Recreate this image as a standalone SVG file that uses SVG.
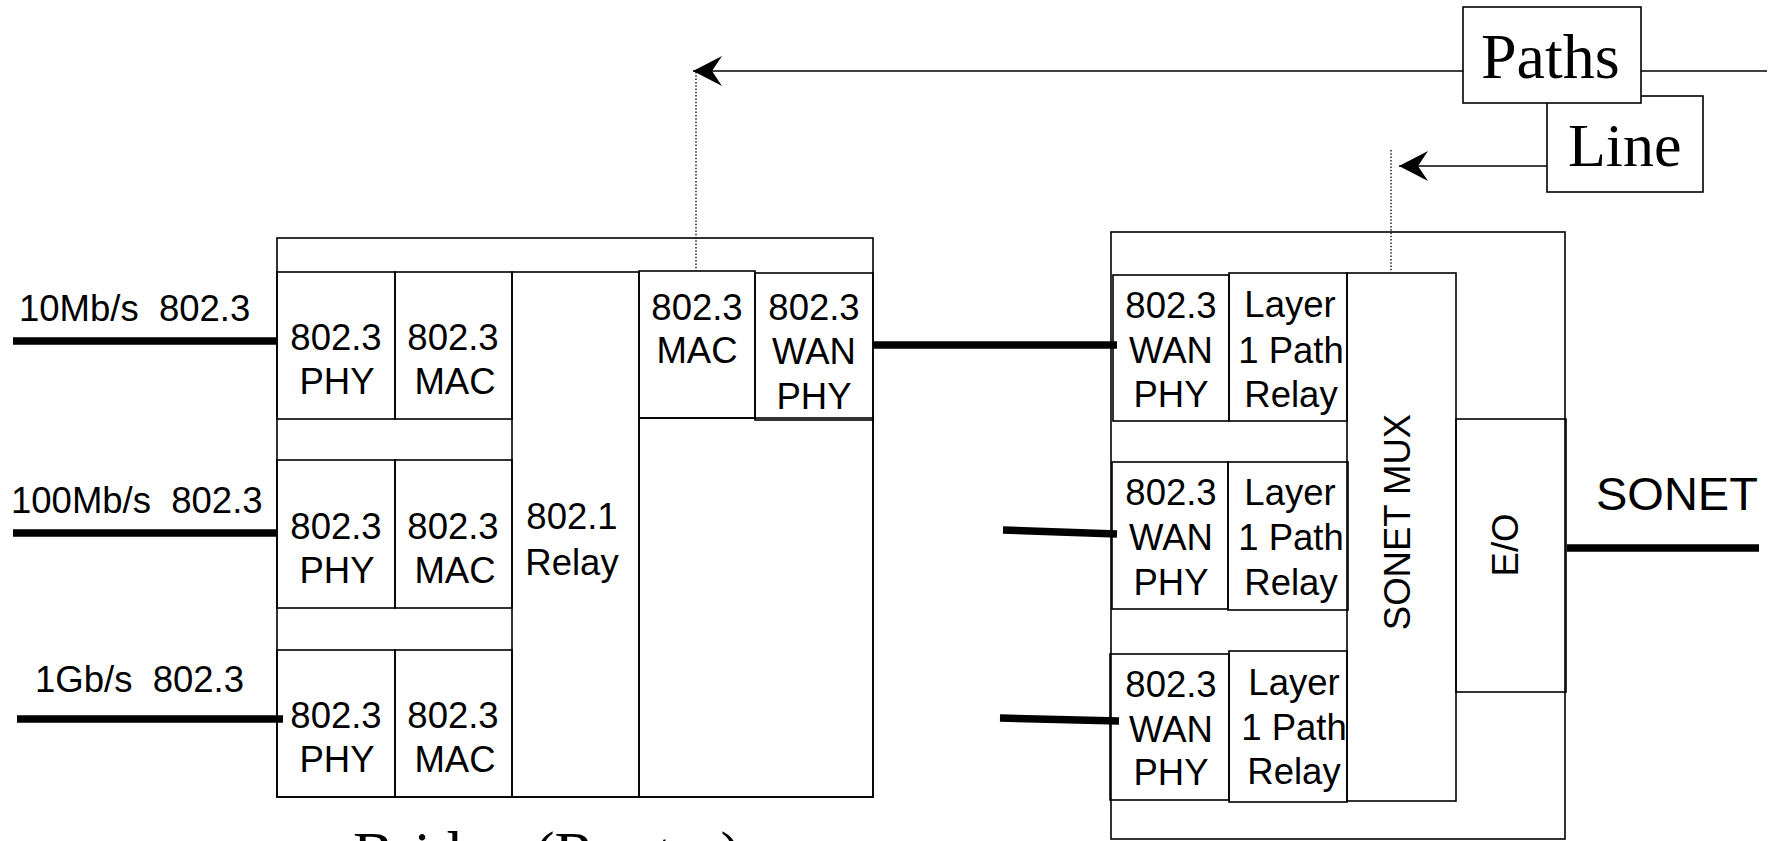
<svg xmlns="http://www.w3.org/2000/svg" width="1771" height="841" viewBox="0 0 1771 841">
<style>
.box{fill:none;stroke:#000;stroke-width:1.6}
.wbox{fill:#fff;stroke:#000;stroke-width:1.6}
.thick{fill:none;stroke:#000;stroke-width:7.5}
.thin{fill:none;stroke:#000;stroke-width:1.6}
.dot{fill:none;stroke:#000;stroke-width:1.3;stroke-dasharray:1.5 1.8}
.lbl{font-family:"Liberation Sans",Arial,sans-serif;font-size:36.5px;fill:#000;text-anchor:middle}
.lft{text-anchor:start}
.big{font-family:"Liberation Sans",Arial,sans-serif;font-size:47px;fill:#000}
.ser{font-family:"Liberation Serif","Times New Roman",serif;fill:#000}
</style>
<defs>
<marker id="ah" markerUnits="userSpaceOnUse" viewBox="-30 -16 31 32" markerWidth="31" markerHeight="32" refX="0" refY="0" orient="auto">
<path d="M0,0 L-29,-15 L-19,0 L-29,15 Z" fill="#000"/>
</marker>
</defs>
<rect width="1771" height="841" fill="#fff"/>

<g id="bridge">
<rect class="box" x="277" y="238" width="596" height="559"/>
<rect class="box" x="639" y="418" width="234" height="379"/>
</g>
<g id="phy1"><rect class="box" x="277" y="272" width="118" height="147"/>
<text class="lbl" x="336" y="350">802.3</text>
<text class="lbl" x="337" y="394">PHY</text></g>
<g id="mac1"><rect class="box" x="395" y="272" width="117" height="147"/>
<text class="lbl" x="453" y="350">802.3</text>
<text class="lbl" x="455" y="394">MAC</text></g>
<g id="phy2"><rect class="box" x="277" y="460" width="118" height="148"/>
<text class="lbl" x="336" y="539">802.3</text>
<text class="lbl" x="337" y="583">PHY</text></g>
<g id="mac2"><rect class="box" x="395" y="460" width="117" height="148"/>
<text class="lbl" x="453" y="539">802.3</text>
<text class="lbl" x="455" y="583">MAC</text></g>
<g id="phy3"><rect class="box" x="277" y="650" width="118" height="147"/>
<text class="lbl" x="336" y="728">802.3</text>
<text class="lbl" x="337" y="772">PHY</text></g>
<g id="mac3"><rect class="box" x="395" y="650" width="117" height="147"/>
<text class="lbl" x="453" y="728">802.3</text>
<text class="lbl" x="455" y="772">MAC</text></g>
<g id="relay"><rect class="box" x="512" y="272" width="127" height="525"/>
<text class="lbl" x="572" y="529">802.1</text>
<text class="lbl" x="572" y="575">Relay</text></g>
<g id="wanmac"><rect class="box" x="639" y="271" width="116" height="147"/>
<text class="lbl" x="697" y="320">802.3</text>
<text class="lbl" x="697" y="363">MAC</text></g>
<g id="wanphy"><rect class="box" x="755" y="273" width="118" height="147"/>
<text class="lbl" x="814" y="320">802.3</text>
<text class="lbl" x="814" y="364">WAN</text>
<text class="lbl" x="814" y="409">PHY</text></g>
<text class="ser" x="353" y="874" font-size="61">Bridge (Router)</text>

<g id="mux">
<rect class="box" x="1111" y="232" width="454" height="607"/>
</g>
<g id="mwp1"><rect class="box" x="1113" y="275" width="116" height="146"/>
<text class="lbl" x="1171" y="318">802.3</text>
<text class="lbl" x="1171" y="363">WAN</text>
<text class="lbl" x="1171" y="407">PHY</text></g>
<g id="ml1"><rect class="box" x="1229" y="273" width="118" height="148"/>
<text class="lbl" x="1290" y="317">Layer</text>
<text class="lbl" x="1291" y="363">1 Path</text>
<text class="lbl" x="1291" y="407">Relay</text></g>
<g id="mwp2"><rect class="box" x="1112" y="462" width="116" height="147"/>
<text class="lbl" x="1171" y="505">802.3</text>
<text class="lbl" x="1171" y="550">WAN</text>
<text class="lbl" x="1171" y="595">PHY</text></g>
<g id="ml2"><rect class="box" x="1228" y="462" width="120" height="148"/>
<text class="lbl" x="1290" y="505">Layer</text>
<text class="lbl" x="1291" y="550">1 Path</text>
<text class="lbl" x="1291" y="595">Relay</text></g>
<g id="mwp3"><rect class="box" x="1110" y="654" width="119" height="146"/>
<text class="lbl" x="1171" y="697">802.3</text>
<text class="lbl" x="1171" y="742">WAN</text>
<text class="lbl" x="1171" y="785">PHY</text></g>
<g id="ml3"><rect class="box" x="1229" y="651" width="118" height="151"/>
<text class="lbl" x="1294" y="695">Layer</text>
<text class="lbl" x="1294" y="740">1 Path</text>
<text class="lbl" x="1294" y="784">Relay</text></g>
<g id="sonetmux"><rect class="box" x="1347" y="273" width="109" height="528"/>
<text class="lbl" transform="translate(1410,522) rotate(-90)">SONET MUX</text></g>
<g id="eo"><rect class="box" x="1456" y="419" width="110" height="273"/>
<text class="lbl" font-size="35" transform="translate(1518,545) rotate(-90)">E/O</text></g>

<g id="labels">
<text class="lbl lft" xml:space="preserve" x="19" y="321">10Mb/s  802.3</text>
<text class="lbl lft" xml:space="preserve" x="11" y="513">100Mb/s  802.3</text>
<text class="lbl lft" xml:space="preserve" x="35" y="692">1Gb/s  802.3</text>
<text class="big" x="1596" y="510">SONET</text>
</g>

<g id="connectors">
<line class="thick" x1="13" y1="341" x2="277" y2="341"/>
<line class="thick" x1="13" y1="533" x2="277" y2="533"/>
<line class="thick" x1="17" y1="719" x2="283" y2="719"/>
<line class="thick" x1="873" y1="345" x2="1117" y2="345"/>
<line class="thick" x1="1003" y1="530" x2="1117" y2="534"/>
<line class="thick" x1="1000" y1="718" x2="1119" y2="721"/>
<line class="thick" x1="1567" y1="548" x2="1759" y2="548"/>
<line class="thin" x1="1463" y1="71" x2="693" y2="71" marker-end="url(#ah)"/>
<line class="thin" x1="1641" y1="71" x2="1767" y2="71"/>
<line class="thin" x1="1547" y1="166" x2="1399" y2="166" marker-end="url(#ah)"/>
<line class="dot" x1="696" y1="72" x2="696" y2="270"/>
<line class="dot" x1="1391" y1="150" x2="1391" y2="272"/>
</g>

<g id="line-box"><rect class="wbox" x="1547" y="96" width="156" height="96"/>
<text class="ser" x="1568" y="166" font-size="62">Line</text></g>
<g id="paths-box"><rect class="wbox" x="1463" y="7" width="178" height="96"/>
<text class="ser" x="1481" y="78" font-size="64">Paths</text></g>
</svg>
